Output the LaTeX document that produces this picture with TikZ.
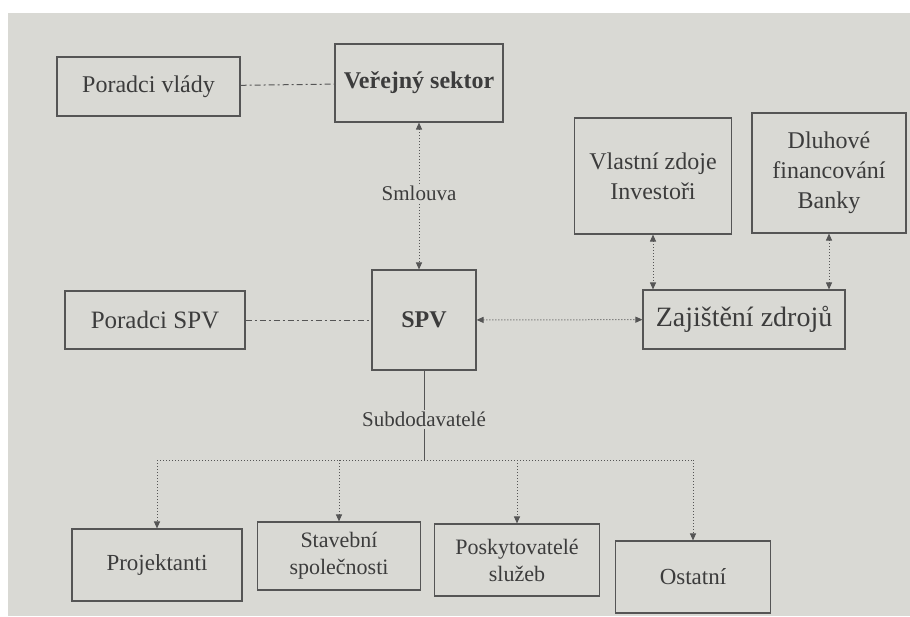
\documentclass[tikz,border=0pt]{standalone}
\usepackage{fontspec}
\setmainfont{Liberation Serif}
\usetikzlibrary{arrows.meta,calc}
\definecolor{pagebg}{HTML}{D9D9D4}
\definecolor{ink}{HTML}{3C3C3C}
\definecolor{edge}{HTML}{555555}
\begin{document}
\begin{tikzpicture}[x=1pt,y=-1pt,
  box/.style={draw=edge,line width=1.1pt,text=ink,align=center,inner sep=2pt,font=\fontsize{24}{30}\selectfont},
  dashdotline/.style={draw=edge,line width=1pt,dash pattern=on 6pt off 3pt on 2pt off 3pt},
  dotline/.style={draw=edge,line width=1pt,dotted},
  tip/.style={-{Triangle[length=7pt,width=6pt]}},
  tips/.style={{Triangle[length=7pt,width=6pt]}-{Triangle[length=7pt,width=6pt]}},
  lbl/.style={fill=pagebg,text=ink,inner sep=2pt,font=\fontsize{21}{24}\selectfont}]
\useasboundingbox (0,0) rectangle (910,616);
\fill[white] (0,0) rectangle (910,616);
\fill[pagebg] (8,13) rectangle (910,616);

\node[box,minimum width=183pt,minimum height=59pt] (pv) at (148.5,86.5) {Poradci vlády};
\node[box,minimum width=168pt,minimum height=78pt,font=\bfseries\fontsize{24}{30}\selectfont] (vs) at (419,83) {Veřejný sektor};
\node[box,minimum width=157pt,minimum height=116pt] (vz) at (653,176) {Vlastní zdoje\\Investoři};
\node[box,minimum width=154pt,minimum height=120pt] (df) at (829,173) {Dluhové\\financování\\Banky};
\node[box,minimum width=104pt,minimum height=100pt,font=\bfseries\fontsize{24}{30}\selectfont] (spv) at (424,320) {SPV};
\node[box,minimum width=180pt,minimum height=58pt,font=\fontsize{25}{30}\selectfont] (ps) at (155,320) {Poradci SPV};
\node[box,minimum width=202pt,minimum height=59pt,font=\fontsize{28}{32}\selectfont] (zz) at (744,319.5) {Zajištění zdrojů};

\node[box,minimum width=170pt,minimum height=72pt,font=\fontsize{23}{28}\selectfont] (pr) at (157,565) {Projektanti};
\node[box,minimum width=163pt,minimum height=68pt,font=\fontsize{22}{27}\selectfont] (st) at (339,556) {Stavební\\společnosti};
\node[box,minimum width=165pt,minimum height=72pt,font=\fontsize{22}{27}\selectfont] (po) at (517,560) {Poskytovatelé\\služeb};
\node[box,minimum width=155pt,minimum height=72pt,font=\fontsize{23}{28}\selectfont] (os) at (693,577) {Ostatní};

% connectors
\draw[dashdotline] (pv) -- (vs);
\draw[dashdotline] (ps) -- (spv);
\draw[dotline,tips] (vs.south) -- (vs.south |- spv.north)
  node[lbl,pos=0.48] (sml) {Smlouva};
\draw[dotline,tips] (spv) -- (zz);
\draw[dotline,tips] (vz.south) -- (vz.south |- zz.north);
\draw[dotline,tips] (df.south) -- (df.south |- zz.north);

\coordinate (bus) at (424,460);
\draw[draw=edge,line width=0.8pt] (spv.south) -- (bus)
  node[lbl,pos=0.55] (sub) {Subdodavatelé};
\draw[dotline] (bus -| pr.north) -- (bus -| os.north);
\draw[dotline,tip] (bus -| pr.north) -- (pr.north);
\draw[dotline,tip] (bus -| st.north) -- (st.north);
\draw[dotline,tip] (bus -| po.north) -- (po.north);
\draw[dotline,tip] (bus -| os.north) -- (os.north);
\end{tikzpicture}
\end{document}
